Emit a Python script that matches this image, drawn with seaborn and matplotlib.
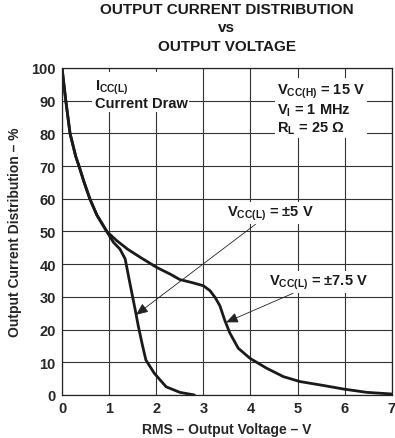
"""
Output current distribution vs RMS output voltage, two supply levels.
"""
import numpy as np
import pandas as pd
import matplotlib
matplotlib.use("Agg")
import matplotlib.pyplot as plt
import seaborn as sns

# ── data ────────────────────────────────────────────────────────────────────
vout_5 = [0.0, 0.04, 0.08, 0.17, 0.29, 0.36, 0.47, 0.59, 0.74, 0.95, 1.09,
          1.23, 1.34, 1.45, 1.55, 1.62, 1.71, 1.78, 1.96, 2.21, 2.5, 2.81]
pct_5 = [100, 95, 90, 80, 73, 70, 65, 60, 55, 50, 46.7,
         44.6, 41.6, 33.5, 26.3, 21, 15, 10.7, 6.6, 2.5, 0.8, 0.0]

vout_75 = [0.0, 0.04, 0.08, 0.17, 0.29, 0.36, 0.47, 0.59, 0.74, 0.95, 1.16,
           1.4, 1.66, 2.01, 2.29, 2.5, 2.75, 3.0, 3.14, 3.25, 3.35, 3.45,
           3.56, 3.74, 3.99, 4.34, 4.7, 5.05, 5.55, 5.98, 6.47, 7.0]
pct_75 = [100, 95, 90, 80, 73, 70, 65, 60, 55, 50, 47.2,
          44.5, 42.1, 39, 37, 35.3, 34.4, 33.4, 31.9, 29.8, 27.3, 23,
          19, 14.3, 11.2, 8.2, 5.6, 4.1, 2.9, 1.8, 0.8, 0.3]

x_ticks = [0, 1, 2, 3, 4, 5, 6, 7]
y_ticks = [0, 10, 20, 30, 40, 50, 60, 70, 80, 90, 100]

df = pd.concat([
    pd.DataFrame({"v": vout_5, "pct": pct_5, "supply": "5"}),
    pd.DataFrame({"v": vout_75, "pct": pct_75, "supply": "7.5"}),
])

sns.set_style("white")
plt.rcParams.update({
    "font.family": ["Liberation Sans", "DejaVu Sans"],
    "font.weight": "bold",
    "mathtext.fontset": "custom",
    "mathtext.rm": "Liberation Sans:bold",
    "mathtext.bf": "Liberation Sans:bold",
    "mathtext.default": "bf",
    "axes.edgecolor": "#222222",
    "text.color": "#1a1a1a",
})

fig = plt.figure(figsize=(3.95, 4.39), dpi=100)
ax = fig.add_axes([0.157, 0.098, 0.835, 0.745])

sns.lineplot(data=df, x="v", y="pct", units="supply", estimator=None,
             sort=False, color="#1a1a1a", linewidth=2.0, ax=ax, legend=False)

ax.set_xlim(0, 7)
ax.set_ylim(0, 100)
ax.set_xticks(x_ticks)
ax.set_yticks(y_ticks)
ax.tick_params(labelsize=10.5, length=3, width=0.8, color="#222222", pad=1.5)
for lab in ax.get_xticklabels() + ax.get_yticklabels():
    lab.set_fontweight("bold")
ax.grid(True, color="#333333", linewidth=0.8)
ax.set_axisbelow(True)
for s in ax.spines.values():
    s.set_linewidth(0.9)

ax.set_xlabel("RMS – Output Voltage – V", fontsize=10, fontweight="bold", labelpad=5)
ax.set_ylabel("Output Current Distribution – %", fontsize=10, fontweight="bold",
              labelpad=7)
ax.set_title("OUTPUT CURRENT DISTRIBUTION\nvs\nOUTPUT VOLTAGE", fontsize=11,
             fontweight="bold", linespacing=1.4, pad=13)

box = dict(facecolor="white", edgecolor="none", pad=1.5)
ax.text(0.69, 92, r"I$_{CC(L)}$" + "\nCurrent Draw", fontsize=10.5,
        fontweight="bold", va="center", ha="left", linespacing=1.0, bbox=box)
ax.text(4.56, 87.5, r"V$_{CC(H)}$ = 15 V" + "\n" + r"V$_I$ = 1 MHz" + "\n"
        + r"R$_L$ = 25 Ω", fontsize=10.5, fontweight="bold", va="center",
        ha="left", linespacing=1.1, bbox=box)

arrow = dict(arrowstyle="-|>,head_length=0.7,head_width=0.3", color="#222222",
             lw=0.6, shrinkA=0, shrinkB=0)
ax.annotate(r"V$_{CC(L)}$ = ±5 V", xy=(1.57, 24.5), xytext=(3.5, 55.6),
            fontsize=10.5, fontweight="bold", va="center", ha="left",
            arrowprops=arrow, bbox=box)
ax.annotate(r"V$_{CC(L)}$ = ±7.5 V", xy=(3.48, 22.2), xytext=(4.4, 34.5),
            fontsize=10.5, fontweight="bold", va="center", ha="left",
            arrowprops=arrow, bbox=box)

fig.savefig("out.png", dpi=100)
